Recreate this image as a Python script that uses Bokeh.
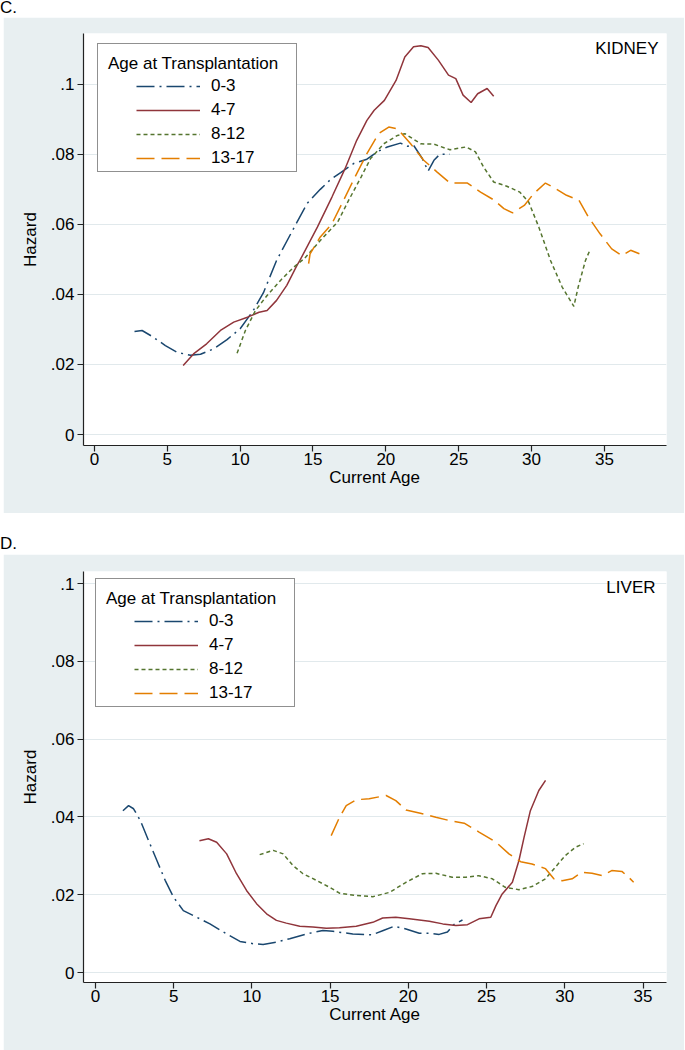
from bokeh.plotting import figure
from bokeh.models import Legend, LegendItem, Label, FixedTicker, Range1d, Div
from bokeh.layouts import column
from bokeh.embed import file_html
from bokeh.resources import INLINE

FONT = "Liberation Sans"
BG = "#e8eff1"
GRID = "#e1e9ec"
AXIS = "#222222"
COLORS = ["#1a476f", "#90353b", "#55752f", "#e37e00"]
DASHES = ["18 5 2 5", "solid", "4 3", "18 7"]
GROUPS = ["0-3", "4-7", "8-12", "13-17"]
LEGEND_TITLE = "Age at Transplantation"
X_LABEL = "Current Age"
Y_LABEL = "Hazard"
X_TICKS = [0, 5, 10, 15, 20, 25, 30, 35]
Y_TICKS = [0, 0.02, 0.04, 0.06, 0.08, 0.1]
Y_TICK_LABELS = ["0", ".02", ".04", ".06", ".08", ".1"]

# ---------------- KIDNEY ----------------
kid_age_0_3 = [2.75, 3.27, 3.96, 4.87, 5.67, 6.59, 7.28, 8.2, 9.1, 10.0, 10.9, 11.6, 12.5,
               13.6, 14.6, 15.5, 16.2, 16.9, 17.8, 18.7, 19.4, 20.1, 21.0, 21.5, 21.9, 22.5,
               22.9, 23.3, 23.7, 24.4]
kid_haz_0_3 = [.0294, .0297, .0280, .0254, .0235, .0226, .0229, .0245, .0271, .0302, .0354,
               .0405, .0497, .0583, .0660, .0700, .0728, .0748, .0774, .0786, .0807, .0821,
               .0832, .0823, .0826, .0788, .0752, .0783, .0800, .0800]

kid_age_4_7 = [6.09, 6.8, 7.7, 8.65, 9.56, 10.5, 11.3, 11.85, 12.5, 13.2, 13.9, 14.1, 15.3,
               16.3, 17.2, 18.0, 18.7, 19.2, 19.9, 20.7, 21.3, 21.9, 22.4, 22.9, 23.6, 24.3,
               24.8, 25.3, 25.85, 26.3, 26.95, 27.4]
kid_haz_4_7 = [.0197, .0230, .0259, .0297, .0321, .0335, .0349, .0354, .0383, .0426, .0483,
               .0497, .0592, .0678, .0759, .0840, .0897, .0926, .0954, .1011, .1078, .1107,
               .1110, .1105, .1069, .1026, .1016, .0969, .0948, .0973, .0988, .0966]

kid_age_8_12 = [9.79, 10.36, 11.05, 11.85, 12.77, 13.68, 14.4, 15.5, 16.7, 17.45, 18.3, 18.95,
                19.85, 20.8, 21.3, 22.4, 23.3, 24.4, 25.5, 26.15, 26.7, 27.4, 28.3, 29.2,
                29.8, 30.5, 31.3, 32.1, 32.9, 33.2, 33.7, 34.0]
kid_haz_8_12 = [.0232, .0297, .0354, .0397, .0440, .0478, .0502, .0554, .0607, .0669, .0735,
                .0788, .0830, .0854, .0859, .0830, .0829, .0813, .0821, .0807, .0764, .0721,
                .0709, .0692, .0664, .0592, .0497, .0421, .0366, .0421, .0497, .0526]

kid_age_13_17 = [14.7, 14.8, 15.5, 16.3, 17.1, 18.0, 18.7, 19.5, 20.2, 20.8, 21.7, 22.6, 23.5,
                 24.4, 25.6, 26.5, 27.4, 28.1, 28.7, 29.5, 30.15, 30.95, 31.65, 32.4, 33.25,
                 33.9, 34.7, 35.5, 36.2, 36.8, 37.4]
kid_haz_13_17 = [.0488, .0516, .0564, .0602, .0669, .0745, .0802, .0859, .0878, .0873, .0830,
                 .0783, .0750, .0718, .0718, .0692, .0670, .0645, .0633, .0654, .0688, .0718,
                 .0702, .0683, .0669, .0621, .0573, .0530, .0511, .0526, .0516]

# ---------------- LIVER ----------------
liv_age_0_3 = [1.76, 2.12, 2.44, 2.87, 3.4, 3.93, 4.46, 4.99, 5.62, 6.48, 7.32, 8.39, 9.24,
               10.08, 10.72, 11.57, 12.42, 13.48, 14.54, 15.18, 16.45, 17.7, 18.4, 19.1,
               19.85, 20.7, 21.3, 21.97, 22.5, 22.9, 23.46]
liv_haz_0_3 = [.0416, .0429, .0421, .0391, .0339, .0288, .0237, .0194, .0159, .0142, .0125,
               .0099, .0080, .0074, .0072, .0078, .0087, .0099, .0108, .0106, .0099, .0097,
               .0108, .0119, .0112, .0101, .0101, .0098, .0104, .0123, .0135]

liv_age_4_7 = [6.65, 7.22, 7.75, 8.39, 9.02, 9.66, 10.3, 10.94, 11.57, 12.2, 13.06, 13.9,
               14.76, 15.6, 16.67, 17.73, 18.36, 19.2, 20.06, 21.34, 22.2, 23.04, 23.78,
               24.52, 25.27, 25.6, 26.0, 26.65, 27.07, 27.4, 27.8, 28.34, 28.77]
liv_haz_4_7 = [.0339, .0344, .0335, .0305, .0254, .0211, .0177, .0151, .0134, .0127, .0119,
               .0117, .0114, .0115, .0119, .0129, .0140, .0142, .0138, .0132, .0125, .0121,
               .0123, .0138, .0142, .0172, .0202, .0232, .0288, .0348, .0416, .0468, .0494]

liv_age_8_12 = [10.5, 11.36, 12.0, 12.63, 13.27, 14.12, 14.97, 15.6, 16.67, 17.73, 18.8,
                19.85, 20.9, 21.76, 22.8, 23.7, 24.5, 25.37, 26.2, 27.07, 27.9, 28.77, 29.4,
                30.04, 30.68, 31.2]
liv_haz_8_12 = [.0303, .0314, .0305, .0275, .0254, .0237, .0219, .0204, .0198, .0195, .0206,
                .0232, .0254, .0255, .0245, .0245, .0249, .0241, .0219, .0213, .0221, .0241,
                .0271, .0301, .0322, .0331]

liv_age_13_17 = [15.07, 15.6, 16.03, 16.67, 17.5, 18.58, 19.2, 19.85, 20.7, 21.76, 22.8,
                 23.57, 24.52, 25.6, 26.43, 27.18, 27.9, 28.77, 29.3, 29.83, 30.47, 31.1,
                 31.74, 32.38, 33.0, 33.65, 34.08, 34.4]
liv_haz_13_17 = [.0352, .0399, .0429, .0444, .0447, .0455, .0442, .0418, .0410, .0399, .0389,
                 .0384, .0361, .0335, .0305, .0285, .0279, .0267, .0241, .0236, .0241, .0258,
                 .0255, .0249, .0262, .0260, .0245, .0232]

KIDNEY_X = (-0.75, 39.26)
KIDNEY_Y = (-0.00314, 0.1145)
LIVER_X = (-0.76, 36.5)
LIVER_Y = (-0.00257, 0.1031)

W = 681


def make_panel(series, xr, yr, organ, height, top_border, right_border,
               leg_dx, leg_dy, lab_dx, lab_dy):
    bottom_border = 68
    p = figure(width=W, height=height, x_range=Range1d(*xr), y_range=Range1d(*yr),
               output_backend="svg", toolbar_location=None,
               min_border_left=80, min_border_right=right_border,
               min_border_top=top_border, min_border_bottom=bottom_border,
               margin=(0, 1, 0, 3))
    p.border_fill_color = BG
    p.background_fill_color = "white"
    p.outline_line_color = None

    p.xaxis.ticker = FixedTicker(ticks=X_TICKS)
    p.yaxis.ticker = FixedTicker(ticks=Y_TICKS)
    p.yaxis.major_label_overrides = dict(zip(Y_TICKS, Y_TICK_LABELS))
    p.xaxis.axis_label = X_LABEL
    p.yaxis.axis_label = Y_LABEL
    for ax in (p.xaxis[0], p.yaxis[0]):
        ax.axis_line_color = AXIS
        ax.axis_line_width = 1.2
        ax.major_tick_line_color = AXIS
        ax.major_tick_line_width = 1.2
        ax.major_tick_out = 6
        ax.major_tick_in = 0
        ax.minor_tick_line_color = None
        ax.major_label_text_font = FONT
        ax.major_label_text_font_size = "17px"
        ax.major_label_text_color = "black"
        ax.axis_label_text_font = FONT
        ax.axis_label_text_font_size = "17px"
        ax.axis_label_text_font_style = "normal"
        ax.axis_label_text_color = "black"
    p.xaxis.major_label_standoff = 1
    p.xaxis.axis_label_standoff = 0
    p.yaxis.major_label_standoff = 3
    p.yaxis.axis_label_standoff = 8

    p.xgrid.visible = False
    p.ygrid.grid_line_color = GRID
    p.ygrid.grid_line_width = 1

    rends = []
    for (ages, hz), color, dash in zip(series, COLORS, DASHES):
        r = p.line(ages, hz, line_color=color, line_width=1.5, line_dash=dash)
        rends.append(r)

    frame_h = height - top_border - bottom_border
    box_h = 127
    items_h = 4 * 20 + 3 * 4

    # Legend frame with title (its single item is an invisible spacer)
    dummy = p.line(x=[], y=[], line_alpha=0)
    box = Legend(items=[LegendItem(label=" ", renderers=[dummy])],
                 title=LEGEND_TITLE, location=(leg_dx, frame_h - leg_dy - box_h), margin=0,
                 padding=10, glyph_width=64, glyph_height=85, label_height=85,
                 label_width=109, label_standoff=5, title_standoff=2,
                 border_line_color=AXIS, border_line_width=1.2,
                 background_fill_color="white", background_fill_alpha=1)
    box.title_text_font = FONT
    box.title_text_font_size = "17px"
    box.title_text_font_style = "normal"
    box.title_text_color = "black"
    box.label_text_font_size = "17px"
    p.add_layout(box)

    leg = Legend(items=[LegendItem(label=g, renderers=[r]) for g, r in zip(GROUPS, rends)],
                 location=(leg_dx + 39, frame_h - (leg_dy + 31 + items_h)), margin=0, padding=0,
                 glyph_width=64, glyph_height=20, label_height=20, spacing=4,
                 label_standoff=11, border_line_color=None, background_fill_alpha=0)
    leg.label_text_font = FONT
    leg.label_text_font_size = "17px"
    leg.label_text_color = "black"
    p.add_layout(leg)

    p.add_layout(Label(x=xr[1], y=yr[1], x_offset=-lab_dx, y_offset=-lab_dy, text=organ,
                       text_align="right", text_baseline="middle", text_font=FONT,
                       text_font_size="17px", text_color="black"))
    return p


kidney = [(kid_age_0_3, kid_haz_0_3), (kid_age_4_7, kid_haz_4_7),
          (kid_age_8_12, kid_haz_8_12), (kid_age_13_17, kid_haz_13_17)]
liver = [(liv_age_0_3, liv_haz_0_3), (liv_age_4_7, liv_haz_4_7),
         (liv_age_8_12, liv_haz_8_12), (liv_age_13_17, liv_haz_13_17)]

pC = make_panel(kidney, KIDNEY_X, KIDNEY_Y, "KIDNEY", 496, 16, 18, 14, 12, 8, 15)
pD = make_panel(liver, LIVER_X, LIVER_Y, "LIVER", 496, 17, 16, 12, 9, 11, 16)

style = "font-family:'Liberation Sans';font-size:17px;line-height:16px;color:#000;"
divC = Div(text=f"<div style=\"{style}\">C.</div>", width=685, height=17, margin=(0, 0, 0, 0))
divD = Div(text=f"<div style=\"{style}padding-top:23px;\">D.</div>", width=685, height=41,
           margin=(0, 0, 0, 0))

layout = column(divC, pC, divD, pD, spacing=0)
open("out.html", "w").write(file_html(layout, INLINE))
